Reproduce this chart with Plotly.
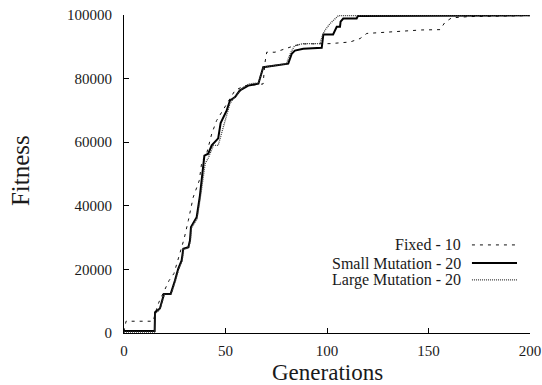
import plotly.graph_objects as go

# ---- data ----
fixed_gen = [0, 1, 14.4, 15.5, 17.2, 22.2, 24.6, 29.6, 31.7, 34.1, 37.1, 38.3, 40.7, 43.2, 45.6,
             50.0, 54.7, 59.6, 68.5, 69.5, 70.3, 74.4, 79.3, 84.2, 88.3, 101.5, 111.3, 116.3,
             119.6, 127.6, 139.3, 146.6, 155.7, 158.1, 161.4, 170, 200]
fixed_fit = [500, 3700, 3700, 6500, 9700, 16500, 18700, 29600, 35400, 42700, 48000, 53700, 56400,
             62600, 66800, 71500, 76300, 77800, 78300, 85200, 88300, 88300, 89400, 90400, 90900,
             91000, 91500, 92600, 94200, 94500, 94900, 95300, 95400, 97700, 99100, 99500, 99800]

small_gen = [0, 15.1, 15.3, 17.7, 19.7, 23.0, 25.1, 26.7, 28.4, 29.2, 31.7, 32.5, 33.0, 35.8,
             37.4, 38.8, 39.6, 41.5, 43.2, 46.4, 47.6, 50.6, 52.2, 54.7, 57.1, 61.2, 66.2, 68.6,
             80.9, 82.6, 84.2, 88.3, 97.4, 98.2, 103.0, 104.8, 106.4, 106.7, 108.0, 114.6, 115.2, 200]
small_fit = [600, 600, 6500, 7700, 12300, 12300, 16500, 20200, 22800, 26500, 27000, 29100, 33300,
             36400, 43200, 51100, 55800, 56400, 59000, 61200, 66000, 70000, 73100, 74200, 76300,
             77800, 78400, 83600, 84700, 87800, 88800, 89400, 89700, 93900, 93900, 96300, 96300,
             97900, 98900, 98900, 99700, 99900]

large_gen = [0, 15.0, 15.4, 17.7, 19.9, 23.2, 25.3, 26.9, 28.6, 29.4, 31.9, 32.7, 33.2, 36.0,
             37.6, 39.2, 40.0, 41.5, 44.0, 46.4, 48.9, 50.2, 52.2, 53.8, 58.8, 62.0, 66.2, 68.6,
             80.0, 82.0, 84.0, 88.0, 96.5, 97.8, 99.0, 101.5, 103.1, 105.6, 200]
large_fit = [300, 300, 6000, 7500, 12200, 12200, 16300, 20000, 22600, 26300, 26800, 29000, 33000,
             36000, 42500, 50500, 53300, 55000, 59000, 59000, 64700, 66800, 72200, 73600, 77300,
             78400, 78600, 83600, 84700, 88000, 90300, 91000, 91000, 93600, 95200, 97300, 98400,
             99800, 100000]

series_names = ["Fixed - 10", "Small Mutation - 20", "Large Mutation - 20"]
x_ticks = [0, 50, 100, 150, 200]
y_ticks = [0, 20000, 40000, 60000, 80000, 100000]

FONT = "Liberation Serif"
TXT = "#1a1a1a"

styles = [
    dict(color="#111111", width=1, dash="3px,5px"),
    dict(color="#000000", width=2, dash="solid"),
    dict(color="#3a3a3a", width=1.3, dash="1px,1px"),
]

fig = go.Figure()
for name, xs, ys, st in zip(series_names,
                            [fixed_gen, small_gen, large_gen],
                            [fixed_fit, small_fit, large_fit],
                            styles):
    fig.add_trace(go.Scatter(x=xs, y=ys, mode="lines", name=name, line=st,
                             showlegend=False))

# custom legend: text right-aligned with line sample to its right
leg_y = [0.277, 0.220, 0.167]
for name, yy, st in zip(series_names, leg_y, styles):
    fig.add_annotation(x=0.835, y=yy, xref="paper", yref="paper", text=name,
                       showarrow=False, xanchor="right", yanchor="middle",
                       font=dict(family=FONT, size=16, color=TXT))
    fig.add_shape(type="line", xref="paper", yref="paper", x0=0.857, x1=0.968,
                  y0=yy, y1=yy, line=st)

axis_common = dict(showgrid=False, zeroline=False, showline=True, linecolor="#000000",
                   linewidth=1, ticks="inside", ticklen=5, tickcolor="#000000",
                   automargin=False,
                   tickfont=dict(family=FONT, size=15, color=TXT))

fig.update_xaxes(range=[0, 200], tickvals=x_ticks, ticktext=[str(v) for v in x_ticks],
                 ticklabelstandoff=4, **axis_common)
fig.update_yaxes(range=[0, 100000], tickvals=y_ticks, ticktext=[str(v) for v in y_ticks],
                 ticklabelstandoff=8, **axis_common)

# axis titles as annotations for exact placement
fig.add_annotation(x=0.5, y=-0.125, xref="paper", yref="paper", text="Generations",
                   showarrow=False, xanchor="center", yanchor="middle",
                   font=dict(family=FONT, size=23, color=TXT))
fig.add_annotation(x=-0.253, y=0.51, xref="paper", yref="paper", text="Fitness",
                   showarrow=False, xanchor="center", yanchor="middle", textangle=-90,
                   font=dict(family=FONT, size=25, color=TXT))

fig.update_layout(width=542, height=385,
                  margin=dict(l=124, r=12, t=15, b=52),
                  paper_bgcolor="white", plot_bgcolor="white",
                  showlegend=False)

fig.write_html("out.html")
